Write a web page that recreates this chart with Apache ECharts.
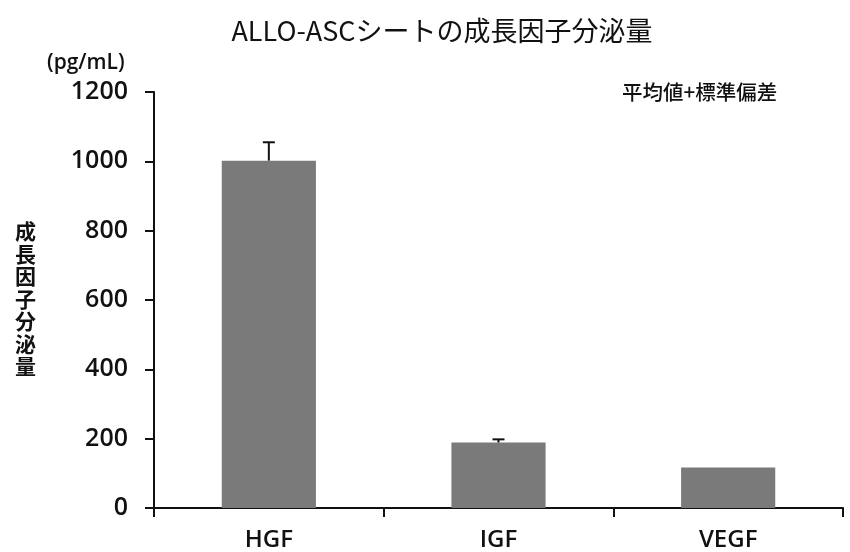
<!DOCTYPE html>
<html>
<head>
<meta charset="utf-8">
<script src="https://cdn.jsdelivr.net/npm/echarts@6/dist/echarts.min.js"></script>
<style>
  html, body { margin: 0; padding: 0; background: #fff; }
  #chart { width: 850px; height: 552px; }
</style>
</head>
<body>
<div id="chart"></div>
<script>
// 成長因子 (pg/mL)
const Categories = ['HGF', 'IGF', 'VEGF'];
const MeanValues = [1002, 189, 117];
const SdValues = [53, 9, 0]; // VEGF: 表示なし
const YTicks = [0, 200, 400, 600, 800, 1000, 1200];

const LabelFont = '"Open Sans", "Noto Sans", sans-serif';
const JpFont = '"Noto Sans CJK JP", sans-serif';

const myChart = echarts.init(document.getElementById('chart'));

// エラーバー用データ [index, mean, mean+sd]
const ErrData = Categories.map((c, i) => [i, MeanValues[i], MeanValues[i] + SdValues[i]]);

myChart.setOption({
  animation: false,
  title: {
    text: 'ALLO-ASCシートの成長因子分泌量',
    left: 437,
    textAlign: 'center',
    top: 12,
    textStyle: {
      fontFamily: JpFont,
      fontSize: 27,
      fontWeight: 'normal',
      color: '#111',
    },
  },
  grid: {
    left: 154,
    right: 7,
    top: 92,
    bottom: 43,
  },
  xAxis: {
    type: 'category',
    data: Categories,
    boundaryGap: true,
    axisLine: { lineStyle: { color: '#111', width: 2 } },
    axisTick: { show: true, length: 9, lineStyle: { color: '#111', width: 2 } },
    axisLabel: {
      margin: 20,
      fontFamily: LabelFont,
      fontSize: 24,
      fontWeight: 600,
      color: '#111',
    },
  },
  yAxis: {
    type: 'value',
    min: YTicks[0],
    max: YTicks[YTicks.length - 1],
    interval: 200,
    axisLine: { show: true, lineStyle: { color: '#111', width: 2 } },
    axisTick: { show: true, length: 9, lineStyle: { color: '#111', width: 2 } },
    splitLine: { show: false },
    axisLabel: {
      margin: 26,
      fontFamily: LabelFont,
      fontSize: 25,
      fontWeight: 600,
      color: '#111',
      formatter: (v) => String(v),
    },
  },
  graphic: [
    {
      type: 'text',
      left: 47,
      top: 53,
      style: {
        text: '(pg/mL)',
        font: '600 21px "Open Sans", sans-serif',
        fill: '#111',
      },
    },
    {
      type: 'text',
      left: 15,
      top: 220,
      style: {
        text: '成\n長\n因\n子\n分\n泌\n量',
        font: 'bold 21px "Noto Sans CJK JP", sans-serif',
        fill: '#111',
        lineHeight: 22.5,
      },
    },
    {
      type: 'text',
      left: 622,
      top: 82,
      style: {
        text: '平均値+標準偏差',
        font: '500 20.5px "Noto Sans CJK JP", sans-serif',
        fill: '#111',
      },
    },
  ],
  series: [
    {
      name: '分泌量',
      type: 'bar',
      data: MeanValues,
      barWidth: '41%',
      itemStyle: { color: '#7a7a7a' },
    },
    {
      name: '標準偏差',
      type: 'custom',
      data: ErrData,
      z: 5,
      renderItem: (params, api) => {
        const i = api.value(0);
        const mean = api.value(1);
        const top = api.value(2);
        if (top <= mean) return null;
        const p0 = api.coord([i, mean]);
        const p1 = api.coord([i, top]);
        const half = 6;
        const style = { stroke: '#111', lineWidth: 2 };
        return {
          type: 'group',
          children: [
            { type: 'line', shape: { x1: p0[0], y1: p0[1], x2: p1[0], y2: p1[1] }, style },
            { type: 'line', shape: { x1: p1[0] - half, y1: p1[1], x2: p1[0] + half, y2: p1[1] }, style },
          ],
        };
      },
    },
  ],
});
</script>
</body>
</html>
